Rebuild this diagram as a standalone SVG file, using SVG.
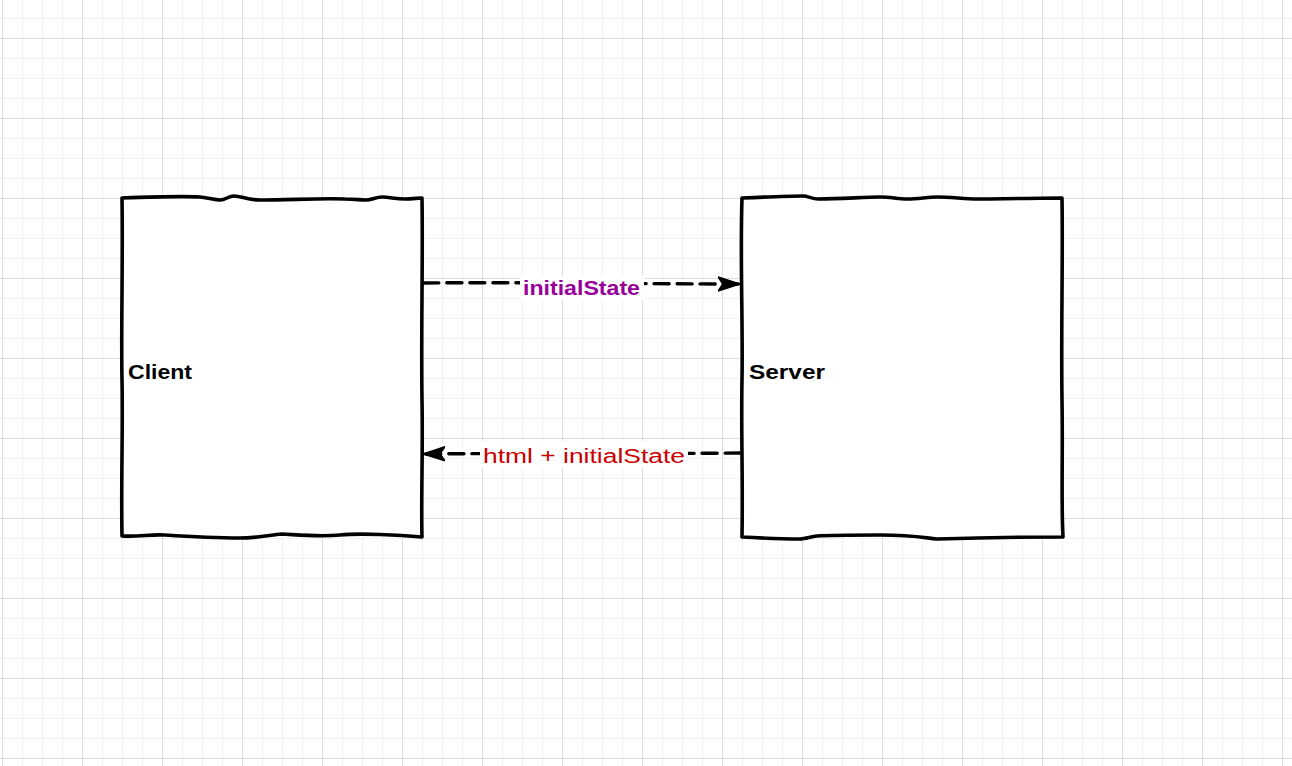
<svg xmlns="http://www.w3.org/2000/svg" width="1292" height="766" viewBox="0 0 1292 766">
  <defs>
    <pattern id="minor" x="2" y="-2" width="20" height="20" patternUnits="userSpaceOnUse">
      <path d="M0 0.5 H20 M0.5 0 V20" stroke="#f1f1f1" stroke-width="1" fill="none"/>
    </pattern>
    <pattern id="major" x="2" y="38" width="80" height="80" patternUnits="userSpaceOnUse">
      <path d="M0 0.5 H80 M0.5 0 V80" stroke="#dddddd" stroke-width="1" fill="none"/>
    </pattern>
    <marker id="arrow" viewBox="0 0 22 16" refX="21" refY="8" markerWidth="22" markerHeight="16" markerUnits="userSpaceOnUse" orient="auto">
      <path d="M0 1 L22 8 L0 15 L5 8 Z" fill="#000" stroke="#000" stroke-width="1.5" stroke-linejoin="round"/>
    </marker>
  </defs>
  <style>
    .box { fill: #ffffff; stroke: #000000; stroke-width: 3.6; stroke-linejoin: round; stroke-linecap: round; }
    .lbl { font-family: "Comic Sans MS", "Liberation Sans", sans-serif; font-size: 20px; font-weight: bold; fill: #000000; }
    .edge { fill: none; stroke: #000000; stroke-width: 3.4; stroke-dasharray: 15 8; stroke-linecap: round; }
    .elbl { font-family: "Comic Sans MS", "Liberation Sans", sans-serif; font-size: 20px; }
  </style>
  <rect width="1292" height="766" fill="#ffffff"/>
  <rect width="1292" height="766" fill="url(#minor)"/>
  <rect width="1292" height="766" fill="url(#major)"/>

  <g id="client">
    <path class="box" d="M122,198 C150,197 180,196 200,197 C210,198 214,200 220,200 C226,200 228,196 234,196 C242,196 246,200 260,200 C290,200 320,198 345,199 C355,199 360,200 366,200 C372,200 376,197 382,197 C390,197 395,199 405,199 C412,199 418,198 422,198 C423,260 421,330 422,400 C423,450 421,500 422,537 C400,535 360,533 340,535 C320,537 300,535 282,534 C270,535 258,538 240,538 C210,538 180,536 165,535 C150,534 140,537 122,536 C121,480 123,430 122,380 C121,330 123,260 122,198 Z"/>
    <text class="lbl" x="128" y="379" textLength="64" lengthAdjust="spacingAndGlyphs">Client</text>
  </g>

  <g id="server">
    <path class="box" d="M742,198 C765,197 790,196 803,196 C808,196 812,199 818,199 C840,199 865,197 880,197 C890,197 898,199 907,199 C918,199 928,197 937,197 C950,197 965,199 977,199 C1000,199 1040,198 1062,198 C1063,260 1061,330 1062,400 C1063,460 1061,500 1063,537 C1030,537 970,538 937,539 C925,538 915,535 880,535 C850,535 830,535 817,536 C810,537 805,539 800,539 C780,539 760,538 742,537 C743,480 741,430 742,380 C743,320 740,260 742,198 Z"/>
    <text class="lbl" x="749" y="379" textLength="76" lengthAdjust="spacingAndGlyphs">Server</text>
  </g>

  <g id="connectors">
    <g id="edge-initialState">
      <path class="edge" d="M424,283 C520,282 640,284 739,284" marker-end="url(#arrow)"/>
      <rect x="520" y="276" width="124" height="24" fill="#ffffff"/>
      <text class="elbl" x="523" y="295" fill="#990099" font-weight="bold" textLength="117" lengthAdjust="spacingAndGlyphs">initialState</text>
    </g>
    <g id="edge-html">
      <path class="edge" d="M740,453 C640,454 520,453 424,454" marker-end="url(#arrow)"/>
      <rect x="480" y="441" width="208" height="27" fill="#ffffff"/>
      <text class="elbl" x="483" y="463" fill="#cc0000" textLength="202" lengthAdjust="spacingAndGlyphs">html + initialState</text>
    </g>
  </g>
</svg>
